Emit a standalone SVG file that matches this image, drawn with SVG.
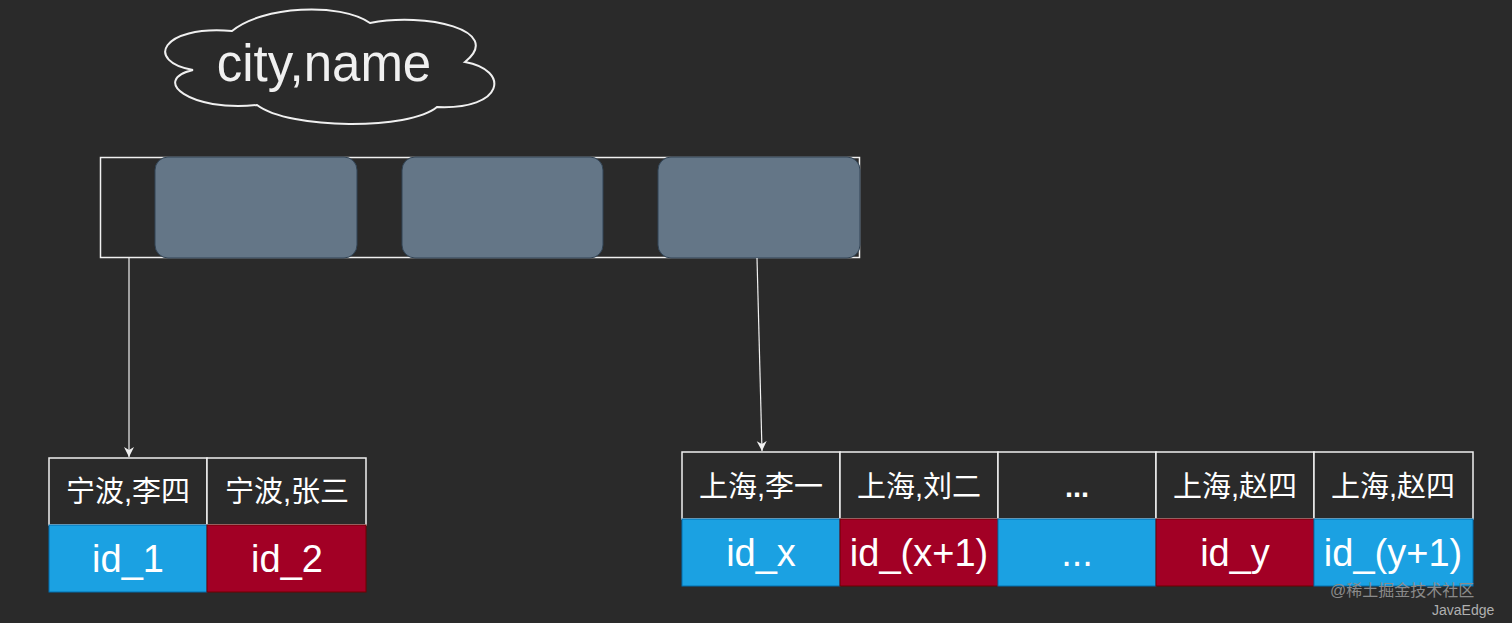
<svg xmlns="http://www.w3.org/2000/svg" width="1512" height="623" viewBox="0 0 1512 623">
<defs>
<style>
.hd{fill:#2a2a2a;stroke:#f0f0f0;stroke-width:1.5}
.blue{fill:#1ba1e2;stroke:#006eaf;stroke-width:1}
.red{fill:#a20025;stroke:#6f0000;stroke-width:1}
.key{fill:#647687;stroke:#314354;stroke-width:1}
.ht{font-family:"Liberation Sans","Noto Sans CJK SC",sans-serif;font-size:29px;fill:#ffffff;text-anchor:middle}
.it{font-family:"Liberation Sans","Noto Sans CJK SC",sans-serif;font-size:38px;fill:#ffffff;text-anchor:middle}
.conn{stroke:#f0f0f0;stroke-width:1.2;fill:none}
</style>
<marker id="arr" markerWidth="12" markerHeight="12" refX="10" refY="5" orient="auto" markerUnits="userSpaceOnUse">
<path d="M0,0 L10,5 L0,10 L3,5 Z" fill="#f0f0f0"/>
</marker>
</defs>
<rect width="1512" height="623" fill="#2a2a2a"/>

<g id="cloud">
<path d="M232,31 C262,6 340,2 370,23 C425,12 505,30 465,62 C510,70 505,110 437,107 C410,130 290,130 257,105 C190,112 150,80 193,70 C145,62 160,25 232,31 Z" fill="#2a2a2a" stroke="#f0f0f0" stroke-width="2"/>
<text x="324" y="81" font-family="Liberation Sans,sans-serif" font-size="51" fill="#f0f0f0" text-anchor="middle">city,name</text>
</g>

<g id="index-page">
<rect x="100.5" y="157.5" width="759" height="100" fill="#2a2a2a" stroke="#f0f0f0" stroke-width="1.5"/>
<rect class="key" x="155" y="157" width="202" height="101" rx="13"/>
<rect class="key" x="402" y="157" width="201" height="101" rx="13"/>
<rect class="key" x="658" y="157" width="202" height="101" rx="13"/>
</g>

<g id="connectors">
<path class="conn" d="M129,258 L129,457" marker-end="url(#arr)"/>
<path class="conn" d="M757,258 L762,451" marker-end="url(#arr)"/>
</g>

<g id="leaf-ningbo">
<rect class="hd" x="49" y="458" width="158" height="67"/>
<rect class="hd" x="207" y="458" width="159" height="67"/>
<rect class="blue" x="49" y="525" width="158" height="67"/>
<rect class="red" x="207" y="525" width="159" height="67"/>
<text class="ht" x="128" y="502">宁波,李四</text>
<text class="ht" x="287" y="502">宁波,张三</text>
<text class="it" x="128" y="572">id_1</text>
<text class="it" x="287" y="572">id_2</text>
</g>

<g id="leaf-shanghai">
<rect class="hd" x="682" y="452" width="158" height="67"/>
<rect class="hd" x="840" y="452" width="158" height="67"/>
<rect class="hd" x="998" y="452" width="158" height="67"/>
<rect class="hd" x="1156" y="452" width="158" height="67"/>
<rect class="hd" x="1314" y="452" width="159" height="67"/>
<rect class="blue" x="682" y="519" width="158" height="67"/>
<rect class="red" x="840" y="519" width="158" height="67"/>
<rect class="blue" x="998" y="519" width="158" height="67"/>
<rect class="red" x="1156" y="519" width="158" height="67"/>
<rect class="blue" x="1314" y="519" width="159" height="67"/>
<text class="ht" x="761" y="497">上海,李一</text>
<text class="ht" x="919" y="497">上海,刘二</text>
<text class="ht" x="1077" y="497" font-weight="bold">...</text>
<text class="ht" x="1235" y="497">上海,赵四</text>
<text class="ht" x="1393" y="497">上海,赵四</text>
<text class="it" x="761" y="566">id_x</text>
<text class="it" x="919" y="566">id_(x+1)</text>
<text class="it" x="1077" y="566">...</text>
<text class="it" x="1235" y="566">id_y</text>
<text class="it" x="1393" y="566">id_(y+1)</text>
</g>

<g id="watermark" font-family="Liberation Sans,Noto Sans CJK SC,sans-serif" fill="#8a8a8a">
<text x="1330" y="596" font-size="16">@稀土掘金技术社区</text>
<text x="1432" y="615" font-size="14" fill="#b0b0b0">JavaEdge</text>
</g>
</svg>
